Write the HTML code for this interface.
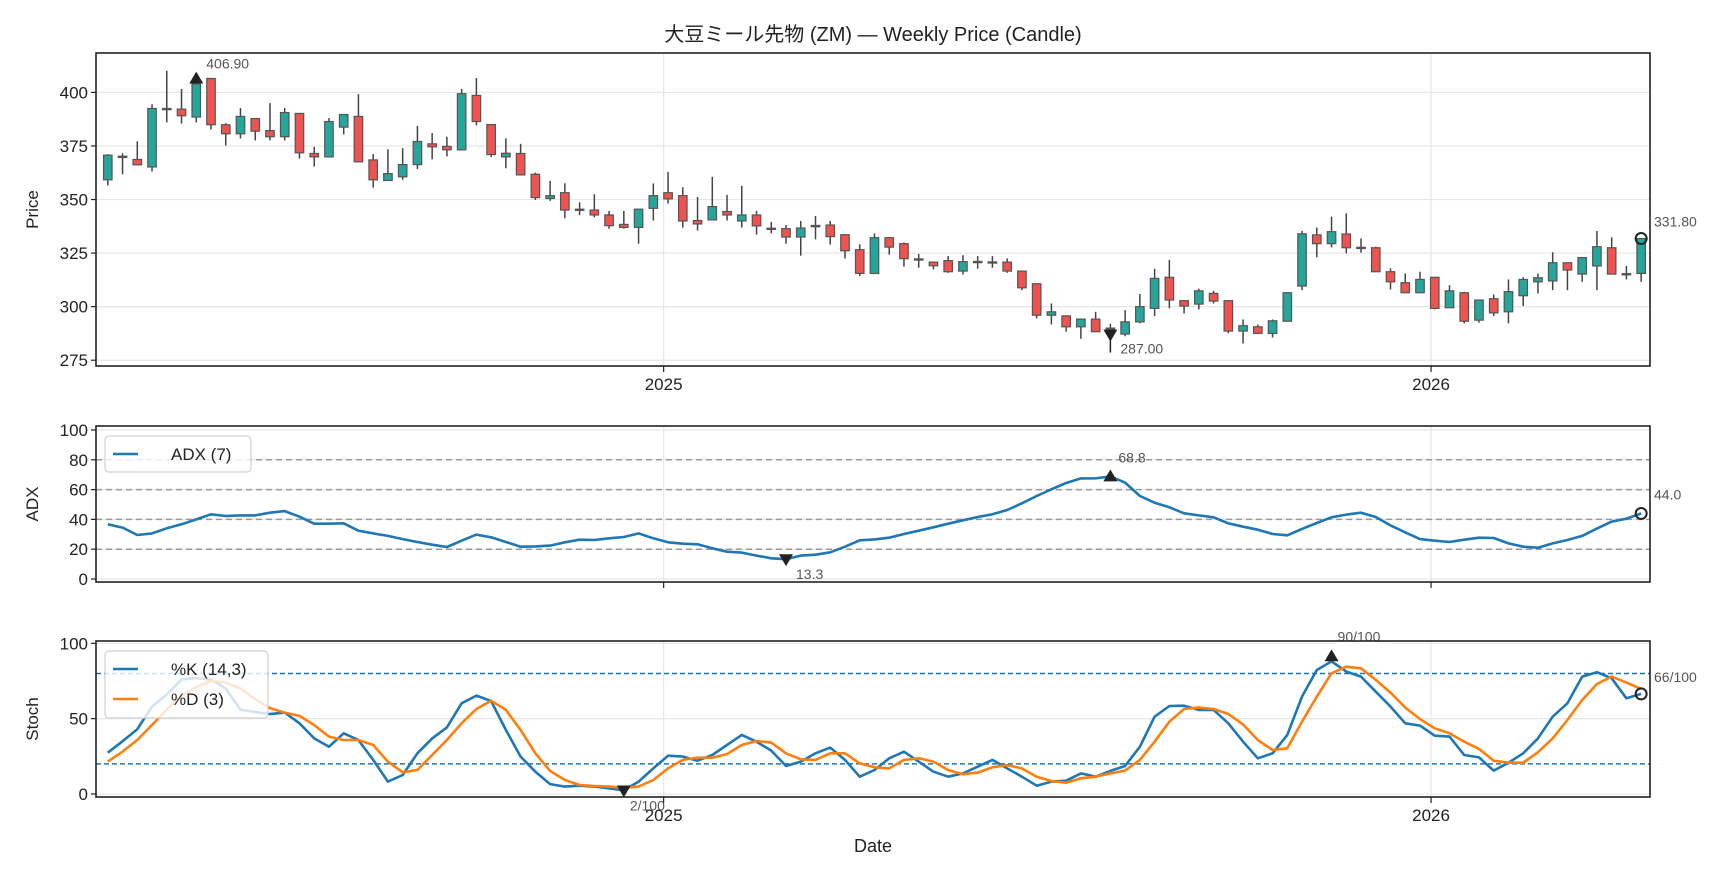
<!DOCTYPE html>
<html><head><meta charset="utf-8">
<style>
html,body{margin:0;padding:0;background:#fff;}
svg{display:block;font-family:"Liberation Sans","Noto Sans CJK JP",sans-serif;}
</style></head>
<body>
<svg id="chart" width="1728" height="878" viewBox="0 0 1728 878" xmlns="http://www.w3.org/2000/svg">
<rect width="1728" height="878" fill="#fff"/>
<text x="873" y="41" font-size="20" text-anchor="middle" fill="#222">大豆ミール先物 (ZM) — Weekly Price (Candle)</text>
<g id="price"></g>
<g id="adx"></g>
<g id="stoch"></g>
<text x="873" y="852" font-size="18" text-anchor="middle" fill="#222">Date</text>
</svg>
<script>
const opens=[359.2,370,368.7,365.2,392.5,392.2,388.5,406.5,384.9,380.7,387.8,382.2,379.3,390.2,371.5,369.9,383.8,388.8,368.5,358.9,360.6,366.3,376,374.8,373.2,398.6,385,369.9,371.5,361.8,350.5,353.2,345.5,345.1,342.8,338.4,337,345.9,353.2,351.8,340.2,340.5,344.4,340,342.8,336.6,336.4,332.5,337.3,338.1,333.6,326.6,315.5,332.2,329.4,322.3,320.8,321.5,316.6,321,320.9,320.8,316.6,310.7,296,295.7,290.6,294.2,289.5,287.2,292.9,299.2,313.7,302.8,301.2,306.2,302.8,288.6,290.6,287.5,293.2,309.6,333.5,329.4,333.9,327.7,327.5,316.3,311.2,306.5,313.7,299.5,306.5,293.7,303.7,297.6,305.1,311.6,312,320.5,315.2,319,327.5,315.2,315.5];
const highs=[371.2,371.6,377.2,394.5,410.1,401.6,406.9,406.5,385.7,392.7,387.8,395,392.7,390.2,374.6,388,389.7,399.2,371.2,373.5,374,384.4,381,379.3,401.6,406.7,385,378.6,376,362.6,358.7,357.6,348.7,352.5,344.7,344.7,345.5,357.5,362.9,355.7,351.2,360.6,352.2,356.4,344.7,339.5,338.1,340,342.3,340,333.6,329.1,334.2,332.2,330,324.6,320.8,323.6,324,323.6,323.6,322.5,316.6,310.7,301.5,295.7,294.2,297.6,292,298.4,305.9,317.7,321.8,302.8,308.4,307.4,302.8,294,291.7,294,306.5,335.4,336.9,342,343.6,331.9,328,317.9,315.5,316.3,313.7,310,307,303.1,305.7,312.7,313.7,315.5,325.4,320.5,322.9,335.3,332.4,319,331.8];
const lows=[356.6,361.8,365.9,363.1,386,385.5,386,382.7,375.2,378.5,377.6,377.6,377.6,369.1,365.4,369.9,380.4,367.6,355.6,358.9,359.2,364.2,368.8,370.1,373.2,384.6,369.8,364.6,361.5,349.8,349.4,341.2,342.7,341.7,336.4,336.4,329.4,340.2,348.1,336.9,335.5,340.5,340.2,336.9,333.6,334.2,329.4,323.8,331.4,329,322.5,314.3,315.5,324.3,318.7,318.2,317.4,315.8,315,317.7,318.2,315.8,307.7,294.5,291.7,288.3,285,288.3,287,286.2,292.2,295.6,299.2,296.8,298.7,301.5,287.6,282.8,287.5,285.6,293.2,307.7,323,327.7,324.9,325.2,316.3,308,306.5,306.5,298.7,299.5,292.2,292.5,295.7,292.2,300.3,306.2,307.7,307.7,311.6,307.7,315.2,312.7,311.6];
const closes=[370.7,370.2,366.2,392.5,392.4,389.1,404,384.9,380.7,388.8,381.9,379.3,390.6,371.8,369.9,386.4,389.7,367.6,359.2,362.1,366.3,377.1,374.6,373.2,399.4,386.4,371,371.6,361.5,350.9,351.8,345.1,345,342.8,337.8,337,345.5,351.8,350.3,340,338.6,346.7,342.8,342.8,337.7,336.5,332.5,336.7,337.9,332.7,326.1,315.5,332.2,327.8,322.4,322.1,319.1,316.3,321,321.1,320.8,316.6,308.8,296,297.6,290.6,294.2,288.3,290,292.9,300,313.2,303.1,300.3,307.4,302.6,288.6,291.1,287.5,293.4,306.5,334,329.4,335,327.5,327.6,316.3,311.6,306.5,312.7,299.2,307.4,293.2,303.1,297.1,307,312.7,313.5,320.5,317.1,322.9,328,315.2,315.4,331.8];
const adxVals=[36.7,34.5,29.5,30.6,34,36.7,40,43.4,42.3,42.7,42.7,44.5,45.6,41.8,37.1,37.1,37.4,32.4,30.6,28.9,26.8,24.8,23,21.5,25.7,29.8,28,24.8,21.7,21.9,22.4,24.6,26.4,26.2,27.3,28.2,30.6,27.3,24.6,23.7,23.3,20.6,18.3,17.7,15.7,13.9,13.3,15.7,16.3,17.9,21.7,26,26.6,27.7,30.2,32.4,34.7,37.1,39.4,41.6,43.4,46.3,50.8,55.7,60.2,64.4,67.5,67.6,68.8,64.7,55.7,51.2,48.1,44.1,42.7,41.4,37.4,35.1,33.1,30.2,29.3,33.6,37.6,41.4,43.2,44.5,41.6,36,31.3,26.8,25.7,24.8,26.4,27.7,27.5,23.9,21.7,21,23.9,26.2,28.9,33.8,38.5,40.5,44];
const kVals=[27.4,35,43,58,66,76,77,76,70,56,54.4,53,54,46.9,36.9,31.4,40.3,35.8,22.6,8.2,12.6,27,36.9,44.2,60.2,65.3,61.7,42.5,24.8,14.8,6.6,4.9,5.5,4.9,3.8,2.4,8.2,17,25.4,24.8,22.1,25.9,32.5,39.2,34.7,28.8,18.6,21.5,27,30.8,22.6,11.5,15.9,23.7,28.1,21.5,14.8,11.5,13.7,18.1,22.6,17,11.5,5.5,8.2,8.8,13.7,11.5,15.3,18.6,31.4,51.3,58.4,58.6,55.8,55.8,46.9,34.7,23.7,27,39.2,64.6,82.3,88,81.2,77.9,67.9,58,46.9,45.4,38.7,38.1,25.9,24.3,15.5,20.8,27,36.9,51.3,60.2,77.9,80.8,76.8,63.5,66.4];
const dVals=[21.5,28.1,35.8,45.8,56,65,71,75,74,70,63,57,54,51.8,45.8,38.1,35.8,35.8,32.5,21.5,14.4,15.9,25.9,35.8,46.9,56.4,61.9,55.8,42.5,27,15.3,9.3,6,5.3,4.9,4.2,4.9,9.3,17,22.6,24.1,24.1,26.5,32.5,35.2,34.1,27,23,22.6,27,27,20.4,17.7,17,22.6,23.7,21.5,15.9,13.1,14.2,17.7,19.2,17,11.5,8.6,7.5,10.4,11.5,13.7,15.5,22.6,34.7,48,56.4,57.3,56.4,53.1,46.2,35.8,29.2,30.3,48,64.6,80.1,84.5,83.4,75.7,67.3,57.3,49.8,43.6,40.3,34.7,29.9,22.1,20.8,20.8,27.7,36.9,49.1,62.4,73,77.9,73.9,69.7];
const priceTicks=[275,300,325,350,375,400];
const adxTicks=[0,20,40,60,80,100];
const adxLevels=[20,40,60,80];
const stochTicks=[0,50,100];
const stochLevels=[20,80];
const yearTickIdx=[37.7,89.75];
const yearTickLabels=["2025","2026"];
const priceHighMark=[6,406.9];
const priceLowMark=[68,287.0];

const NS="http://www.w3.org/2000/svg";
const XL=96,XR=1650;
function xs(i){return XL+(i+0.8)*(XR-XL)/105.4;}
function lin(d0,d1,r0,r1){return v=>r0+(v-d0)*(r1-r0)/(d1-d0);}
function mk(parent,tag,attrs,text){const e=document.createElementNS(NS,tag);for(const k in attrs)e.setAttribute(k,attrs[k]);if(text!==undefined)e.textContent=text;parent.appendChild(e);return e;}

function frame(g,top,bot,ys,ticks,ylabel,showX){
  ticks.forEach(t=>{
    const l=mk(g,'line',{x1:XL,x2:XR,y1:ys(t),y2:ys(t),stroke:'#e6e6e6','stroke-width':1.2});
    
    
    const tk=mk(g,'line',{x1:XL-5,x2:XL,y1:ys(t),y2:ys(t),stroke:'#222','stroke-width':1.2});
    
    
    const tx=mk(g,'text',{x:XL-8,y:ys(t)+6,'font-size':17,'text-anchor':'end',fill:'#222'},String(t));
    
    
  });
  yearTickIdx.forEach((ti,k)=>{
    const l=mk(g,'line',{x1:xs(ti),x2:xs(ti),y1:top,y2:bot,stroke:'#e6e6e6','stroke-width':1.2});
    
    
    const tk=mk(g,'line',{x1:xs(ti),x2:xs(ti),y1:bot,y2:bot+6,stroke:'#222','stroke-width':1.2});
    
    
    if(showX){
      const tx=mk(g,'text',{x:xs(ti),y:bot+24,'font-size':17,'text-anchor':'middle',fill:'#222'},yearTickLabels[k]);
      
      
    }
  });
  const yl=mk(g,'text',{x:0,y:0,'font-size':17,'text-anchor':'middle',fill:'#222',transform:`translate(38,${(top+bot)/2}) rotate(-90)`},ylabel);
  
  
}
function border(g,top,bot){
  const r=mk(g,'rect',{x:XL,y:top,width:XR-XL,height:bot-top,fill:'none',stroke:'#222','stroke-width':1.6});
  
  
}
function annot(g,x,y,t,anchor){
  const tx=mk(g,'text',{x:x,y:y,'font-size':14,fill:'#555','text-anchor':anchor||'start'},t);
  
  
  return tx;
}
function tri(g,x,y,up){
  const s=7;
  const pts=up?`${x},${y-s} ${x-s},${y+s*0.7} ${x+s},${y+s*0.7}`:`${x},${y+s} ${x-s},${y-s*0.7} ${x+s},${y-s*0.7}`;
  const p=mk(g,'polygon',{points:pts,fill:'#222'});
  
  
}
function circ(g,x,y){
  const c=mk(g,'circle',{cx:x,cy:y,r:5.5,fill:'none',stroke:'#222','stroke-width':2});
  
  
}

// PRICE
(function(){
  const g=document.getElementById('price');const top=53,bot=366;
  const ys=lin(272.3,418.4,bot,top);
  frame(g,top,bot,ys,priceTicks,'Price',true);
  const bw=8.5;
  opens.forEach((o,i)=>{
    const c=closes[i],x=xs(i),up=c>=o;
    const w=mk(g,'line',{x1:x,x2:x,y1:ys(highs[i]),y2:ys(lows[i]),stroke:'#444','stroke-width':1.5});
    
    
    const yt=ys(Math.max(o,c)),yb=ys(Math.min(o,c));
    const b=mk(g,'rect',{x:x-bw/2,y:yt,width:bw,height:Math.max(yb-yt,1.2),fill:up?'#26a69a':'#ef5350',stroke:'#555','stroke-width':1.2});
    
    
  });
  const hx=xs(priceHighMark[0]),hy=ys(priceHighMark[1]);
  tri(g,hx,hy+1,true);
  const bgh=mk(g,'rect',{x:hx+4,y:hy-22,width:56,height:16,fill:'#fff'});
  annot(g,hx+10,hy-9,priceHighMark[1].toFixed(2));
  const lx=xs(priceLowMark[0]),ly=ys(priceLowMark[1]);
  tri(g,lx,ly,false);
  mk(g,'line',{x1:lx,x2:lx,y1:ly,y2:ly+18,stroke:'#222','stroke-width':1.5});
  mk(g,'rect',{x:lx+5,y:ly+6,width:56,height:16,fill:'#fff'});
  annot(g,lx+10,ly+19,priceLowMark[1].toFixed(2));
  const n=closes.length-1;
  circ(g,xs(n),ys(closes[n]));
  annot(g,XR+4,ys(closes[n])-12,closes[n].toFixed(2));
  border(g,top,bot);
})();

function series(g,vals,ys,color,name){
  const d=vals.map((v,i)=>(i?'L':'M')+xs(i).toFixed(1)+','+ys(v).toFixed(1)).join(' ');
  const p=mk(g,'path',{d:d,fill:'none',stroke:color,'stroke-width':2.6,'stroke-linejoin':'round'});
  
  
}
function legend(g,x,y,items){
  const h=items.length===1?36:67,w=items.length===1?146:163;
  const r=mk(g,'rect',{x:x,y:y,width:w,height:h,rx:4,fill:'rgba(255,255,255,0.8)',stroke:'#d0d0d0','stroke-width':1.2});
  
  
  items.forEach((it,k)=>{
    const cy=y+18+k*30;
    const l=mk(g,'line',{x1:x+8,x2:x+33,y1:cy,y2:cy,stroke:it[1],'stroke-width':2.6});
    
    
    const t=mk(g,'text',{x:x+66,y:cy+6,'font-size':17,fill:'#222'},it[0]);
    
    
  });
}

// ADX
(function(){
  const g=document.getElementById('adx');const top=426,bot=582;
  const ys=lin(0,100,579,430);
  frame(g,top,bot,ys,adxTicks,'ADX',false);
  adxLevels.forEach(v=>{
    const l=mk(g,'line',{x1:XL,x2:XR,y1:ys(v),y2:ys(v),stroke:'#999','stroke-width':1.5,'stroke-dasharray':'6,4'});
    
    
  });
  series(g,adxVals,ys,'#1f77b4','adx-line');
  let hi=0,lo=0;adxVals.forEach((v,i)=>{if(v>adxVals[hi])hi=i;if(v<adxVals[lo])lo=i;});
  tri(g,xs(hi),ys(adxVals[hi]),true);
  annot(g,xs(hi)+8,ys(adxVals[hi])-14,adxVals[hi].toFixed(1));
  tri(g,xs(lo),ys(adxVals[lo]),false);
  annot(g,xs(lo)+10,ys(adxVals[lo])+20,adxVals[lo].toFixed(1));
  const n=adxVals.length-1;circ(g,xs(n),ys(adxVals[n]));
  annot(g,XR+4,ys(adxVals[n])-14,adxVals[n].toFixed(1));
  legend(g,105,436,[['ADX (7)','#1f77b4']]);
  border(g,top,bot);
})();

// STOCH
(function(){
  const g=document.getElementById('stoch');const top=641,bot=797;
  const ys=lin(0,100,794,643.3);
  frame(g,top,bot,ys,stochTicks,'Stoch',true);
  stochLevels.forEach(v=>{
    const l=mk(g,'line',{x1:XL,x2:XR,y1:ys(v),y2:ys(v),stroke:'#1f77b4','stroke-width':1.5,'stroke-dasharray':'5,3'});
    
    
  });
  series(g,kVals,ys,'#1f77b4','stoch-k-line');
  series(g,dVals,ys,'#ff7f0e','stoch-d-line');
  let hi=0,lo=0;kVals.forEach((v,i)=>{if(v>kVals[hi])hi=i;if(v<kVals[lo])lo=i;});
  tri(g,xs(hi),ys(kVals[hi])-5,true);
  mk(g,'rect',{x:xs(hi)+4,y:ys(kVals[hi])-33,width:56,height:16,fill:'#fff'});
  annot(g,xs(hi)+6,ys(kVals[hi])-20,'90/100');
  tri(g,xs(lo),ys(kVals[lo]),false);
  annot(g,xs(lo)+6,ys(kVals[lo])+20,Math.round(kVals[lo])+'/100');
  const n=kVals.length-1;circ(g,xs(n),ys(kVals[n]));
  annot(g,XR+4,ys(kVals[n])-12,Math.round(kVals[n])+'/100');
  legend(g,105,651,[['%K (14,3)','#1f77b4'],['%D (3)','#ff7f0e']]);
  border(g,top,bot);
})();
</script>
</body></html>
